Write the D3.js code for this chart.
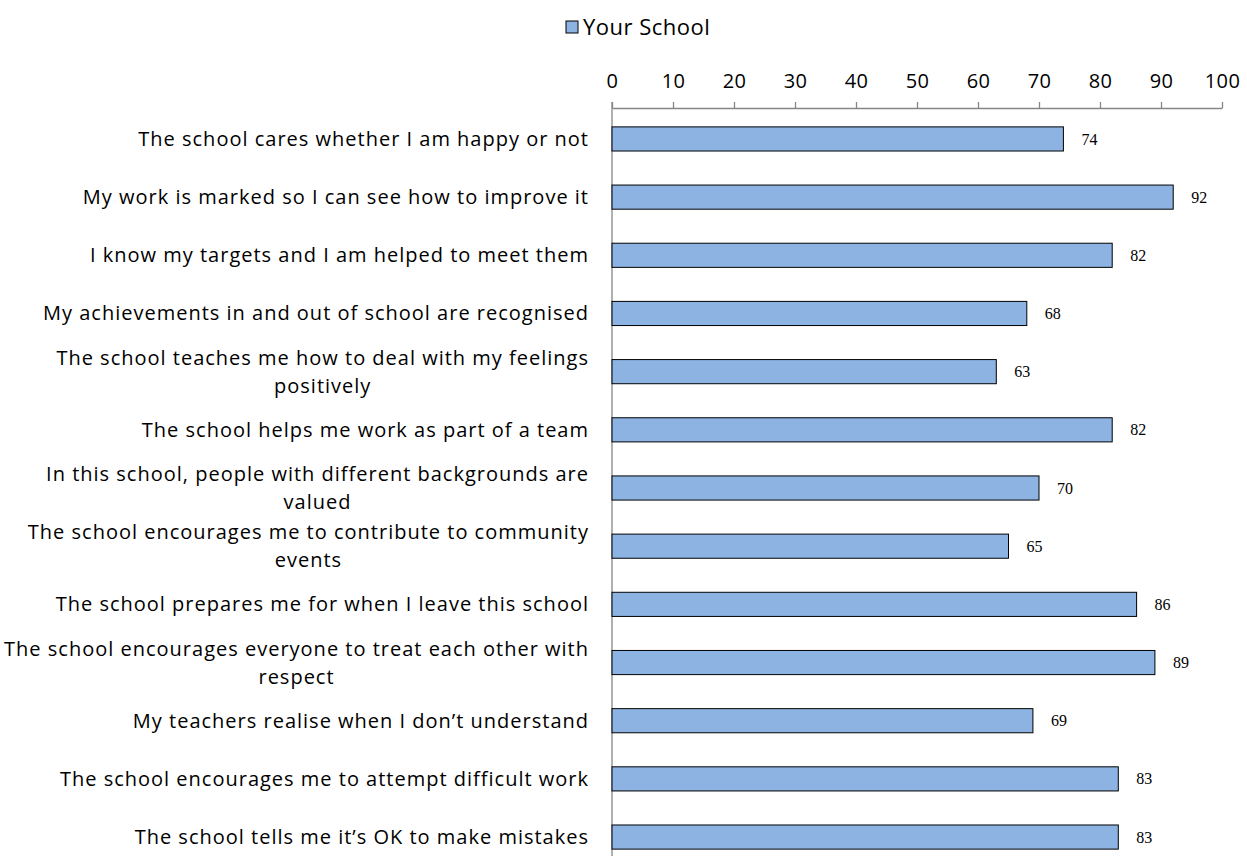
<!DOCTYPE html>
<html>
<head>
<meta charset="utf-8">
<script src="https://cdn.jsdelivr.net/npm/d3@7"></script>
<style>
  html, body { margin: 0; padding: 0; background: #fff; overflow: hidden; }
  svg { display: block; }
</style>
</head>
<body>
<svg id="chart" width="1247" height="856"></svg>
<script>
// Survey statements (two-line labels split with "\n")
const categories = [
  "The school cares whether I am happy or not",
  "My work is marked so I can see how to improve it",
  "I know my targets and I am helped to meet them",
  "My achievements in and out of school are recognised",
  "The school teaches me how to deal with my feelings\npositively",
  "The school helps me work as part of a team",
  "In this school, people with different backgrounds are\nvalued",
  "The school encourages me to contribute to community\nevents",
  "The school prepares me for when I leave this school",
  "The school encourages everyone to treat each other with\nrespect",
  "My teachers realise when I don\u2019t understand",
  "The school encourages me to attempt difficult work",
  "The school tells me it\u2019s OK to make mistakes"
];
const yourSchool = [74, 92, 82, 68, 63, 82, 70, 65, 86, 89, 69, 83, 83];
const xTicks = [0, 10, 20, 30, 40, 50, 60, 70, 80, 90, 100];
const seriesName = "Your School";

const svg = d3.select("#chart");
const labelFont = "'Open Sans', Lato, sans-serif";
const valueFont = "'Liberation Serif', 'DejaVu Serif', serif";

const plot = { left: 612, right: 1222, top: 108, bottom: 866 };

const x = d3.scaleLinear().domain([0, 100]).range([plot.left, plot.right]);
const y = d3.scaleBand().domain(d3.range(categories.length))
  .range([plot.top + 2, plot.bottom]).paddingInner(0.585).paddingOuter(0.29);

// Top value axis
const xAxis = d3.axisTop(x).tickValues(xTicks).tickSize(6).tickPadding(14).tickSizeOuter(0);
const gx = svg.append("g").attr("transform", `translate(0,${plot.top})`).call(xAxis);
gx.select(".domain").attr("stroke", "#868686").attr("stroke-width", 1.3);
gx.selectAll(".tick line").attr("stroke", "#868686").attr("stroke-width", 1.3);
gx.selectAll(".tick text").attr("fill", "#000").attr("font-family", labelFont)
  .attr("font-size", 20).attr("letter-spacing", 0.4);

// Category axis line
svg.append("line")
  .attr("x1", plot.left).attr("x2", plot.left)
  .attr("y1", plot.top - 6).attr("y2", plot.bottom)
  .attr("stroke", "#868686").attr("stroke-width", 1.3);

// Bars
svg.append("g").selectAll("rect").data(yourSchool).join("rect")
  .attr("x", x(0))
  .attr("y", (d, i) => y(i))
  .attr("width", d => x(d) - x(0))
  .attr("height", y.bandwidth())
  .attr("fill", "#8DB3E2")
  .attr("stroke", "#000")
  .attr("stroke-width", 1);

// Value labels
svg.append("g").selectAll("text").data(yourSchool).join("text")
  .attr("x", d => x(d) + 18)
  .attr("y", (d, i) => y(i) + y.bandwidth() / 2)
  .attr("dy", "0.35em")
  .attr("font-family", valueFont)
  .attr("font-size", 16)
  .attr("fill", "#000")
  .text(d => d);

// Category labels: right-aligned block, a wrapped second line centred under the first
const labelRight = 589;
const lineH = 28;
const labels = svg.append("g").attr("font-family", labelFont).attr("font-size", 20)
  .attr("letter-spacing", 1.0).attr("fill", "#000");
categories.forEach((c, i) => {
  const lines = c.split("\n");
  const cy = y(i) + y.bandwidth() / 2;
  const t = labels.append("text");
  if (lines.length === 1) {
    t.attr("text-anchor", "end").attr("x", labelRight).attr("y", cy).attr("dy", "0.35em").text(lines[0]);
  } else {
    const first = t.append("tspan").attr("text-anchor", "end")
      .attr("x", labelRight).attr("y", cy - 14).attr("dy", "0.35em").text(lines[0]);
    const w = first.node().getComputedTextLength();
    t.append("tspan").attr("text-anchor", "middle")
      .attr("x", labelRight - w / 2).attr("y", cy - 14 + lineH).attr("dy", "0.35em").text(lines[1]);
  }
});

// Legend
const lg = svg.append("g").attr("transform", "translate(566,21)");
lg.append("rect").attr("width", 12).attr("height", 12)
  .attr("fill", "#8DB3E2").attr("stroke", "#000").attr("stroke-width", 1);
lg.append("text").attr("x", 17).attr("y", 6).attr("dy", "0.35em")
  .attr("font-family", labelFont).attr("font-size", 22).attr("letter-spacing", 0.5)
  .attr("fill", "#000").text(seriesName);
</script>
</body>
</html>
